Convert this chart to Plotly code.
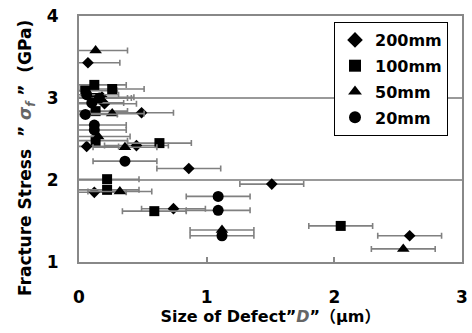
import plotly.graph_objects as go

# 200mm (diamond)
d200_x = [0.07, 0.18, 0.20, 0.49, 0.06, 0.45, 0.86, 1.51, 0.12, 0.74, 2.59]
d200_y = [3.43, 3.01, 2.93, 2.82, 2.41, 2.42, 2.14, 1.95, 1.85, 1.65, 1.32]
# 100mm (square)
s100_x = [0.12, 0.26, 0.05, 0.13, 0.13, 0.13, 0.63, 0.22, 0.22, 0.59, 2.05]
s100_y = [3.16, 3.11, 3.09, 3.00, 2.84, 2.48, 2.45, 2.01, 1.88, 1.62, 1.44]
# 50mm (triangle)
t50_x = [0.13, 0.26, 0.15, 0.36, 0.32, 1.12, 2.54]
t50_y = [3.58, 2.81, 2.53, 2.40, 1.86, 1.39, 1.16]
# 20mm (circle)
c20_x = [0.06, 0.10, 0.16, 0.05, 0.12, 0.12, 0.36, 1.09, 1.09, 1.12]
c20_y = [3.04, 2.94, 3.00, 2.80, 2.67, 2.61, 2.23, 1.80, 1.63, 1.32]

x_err = 0.25          # error half-width (um)
left_clip = -0.045    # error bars are cut at the plot-area edge

series = [
    ("200mm", d200_x, d200_y, "diamond", 9),
    ("100mm", s100_x, s100_y, "square", 10),
    ("50mm", t50_x, t50_y, "triangle-up", 11),
    ("20mm", c20_x, c20_y, "circle", 11),
]

fig = go.Figure()
for name, xs, ys, sym, sz in series:
    minus = [min(x_err, x - left_clip) for x in xs]
    fig.add_trace(go.Scatter(
        x=xs, y=ys, mode="markers", name=name, legendgroup=name,
        marker=dict(symbol=sym, size=sz, color="black"),
        error_x=dict(type="data", symmetric=False,
                     array=[x_err] * len(xs), arrayminus=minus,
                     color="#808080", thickness=1.6, width=3),
        cliponaxis=False,
    ))

font_family = "DejaVu Sans, Noto Sans CJK JP, sans-serif"
L, R, T, B = 79, 10, 16, 71
W, H = 472, 333
pw, ph = W - L - R, H - T - B
nb = "\u00a0"

fig.update_layout(
    width=W, height=H,
    margin=dict(l=L, r=R, t=T, b=B, autoexpand=False),
    paper_bgcolor="white", plot_bgcolor="white",
    font=dict(family=font_family, color="black"),
    showlegend=True,
    legend=dict(
        x=(448 - L) / pw, y=1 - (22 - T) / ph,
        xanchor="right", yanchor="top",
        bgcolor="white", bordercolor="black", borderwidth=1,
        font=dict(size=16, family=font_family, weight="bold"),
        itemsizing="constant", traceorder="grouped", tracegroupgap=2,
    ),
    xaxis=dict(
        range=[0, 3], dtick=1, tick0=0,
        showline=True, linecolor="#888888", linewidth=2, mirror=True,
        showgrid=False, zeroline=False,
        ticks="inside", ticklen=5, tickcolor="#888888", tickwidth=1.5,
        ticklabelstandoff=19,
        tickfont=dict(size=17, weight="bold"),
        title=dict(text="Size of Defect”<i><span style='color:#666'>D</span></i>”（μm）",
                   font=dict(size=16, weight="bold"), standoff=1),
    ),
    yaxis=dict(
        range=[1, 4], dtick=1, tick0=1,
        showline=True, linecolor="#888888", linewidth=2, mirror=True,
        showgrid=True, gridcolor="#999999", gridwidth=1.5, zeroline=False,
        ticks="", ticklabelstandoff=15,
        tickfont=dict(size=17, weight="bold"),
    ),
    annotations=[dict(
        text=("Fracture Stress" + nb * 2 + "”" + nb
              + "<i><span style='color:#666'>σ<sub>f</sub></span></i>"
              + nb + "”" + nb * 2 + "(GPa)"),
        xref="paper", yref="paper",
        x=(27 - L) / pw, y=(H - B - 158) / ph,
        xanchor="center", yanchor="middle", textangle=-90,
        showarrow=False, font=dict(size=17, weight="bold"),
    )],
)
fig.write_html("out.html", config={"displayModeBar": False},
               post_script="document.body.style.margin='0';document.body.style.overflow='hidden';")
